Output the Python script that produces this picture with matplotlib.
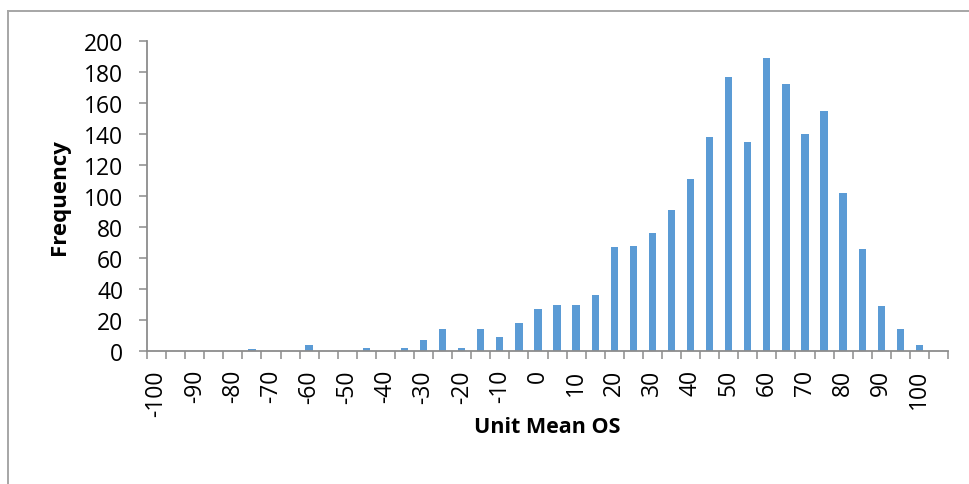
import matplotlib
matplotlib.use("Agg")
import matplotlib.pyplot as plt
from matplotlib.lines import Line2D
import numpy as np

# Histogram bins (Excel style, every other label shown) and frequencies
bins = [str(v) for v in range(-100, 101, 5)] + ["More"]
frequency = [0, 0, 0, 0, 0, 1, 0, 0, 4, 0, 0, 2, 0, 2, 7, 14, 2, 14, 9, 18,
             27, 30, 30, 36, 67, 68, 76, 91, 111, 138, 177, 135, 189, 172,
             140, 155, 102, 66, 29, 14, 4, 0]
y_ticks = [0, 20, 40, 60, 80, 100, 120, 140, 160, 180, 200]

W, H = 969, 485
fig = plt.figure(figsize=(W / 100, H / 100), dpi=100)
ax = fig.add_axes([147 / W, 1 - 352 / H, (948 - 147) / W, (352 - 42) / H])

font = ["Open Sans", "DejaVu Sans"]
axis_col = "#8C8C8C"
bar_col = "#5B9BD5"

x = np.arange(len(bins))
ax.bar(x, frequency, width=0.38, color=bar_col, edgecolor="none", zorder=2)

ax.set_xlim(-0.5, len(bins) - 0.5)
ax.set_ylim(0, 200)

# spines
for s in ["top", "right"]:
    ax.spines[s].set_visible(False)
for s in ["left", "bottom"]:
    ax.spines[s].set_color(axis_col)
    ax.spines[s].set_linewidth(1.3)

# y axis
ax.set_yticks(y_ticks)
ax.set_yticklabels([str(v) for v in y_ticks], fontsize=16.5, family=font)
ax.tick_params(axis="y", direction="out", length=6, width=1.1, color=axis_col, pad=11)

# x axis: tick marks at bin boundaries, labels at bin centres (every other)
ax.set_xticks(np.arange(-0.5, len(bins), 1.0))
ax.set_xticklabels([])
ax.tick_params(axis="x", which="major", direction="out", length=6, width=1.1, color=axis_col)
ax.set_xticks(x[::2], minor=True)
ax.set_xticklabels(bins[::2], minor=True, rotation=90, fontsize=16.5, family=font)
ax.tick_params(axis="x", which="minor", length=0, pad=13)

fig.text(60 / W, 1 - 197 / H, "Frequency", rotation=90, ha="center", va="center",
         fontsize=16, fontweight="bold", family=font)
fig.text(547 / W, 1 - 428 / H, "Unit Mean OS", ha="center", va="center",
         fontsize=15.5, fontweight="bold", family=font)

# chart area border (top and left visible)
border_col = "#A6A6A6"
fig.add_artist(Line2D([8 / W, 1.0], [1 - 12 / H, 1 - 12 / H], color=border_col,
                      lw=1.4, transform=fig.transFigure))
fig.add_artist(Line2D([8 / W, 8 / W], [1 - 12 / H, 0.0], color=border_col,
                      lw=1.4, transform=fig.transFigure))

fig.savefig("out.png", dpi=100)
